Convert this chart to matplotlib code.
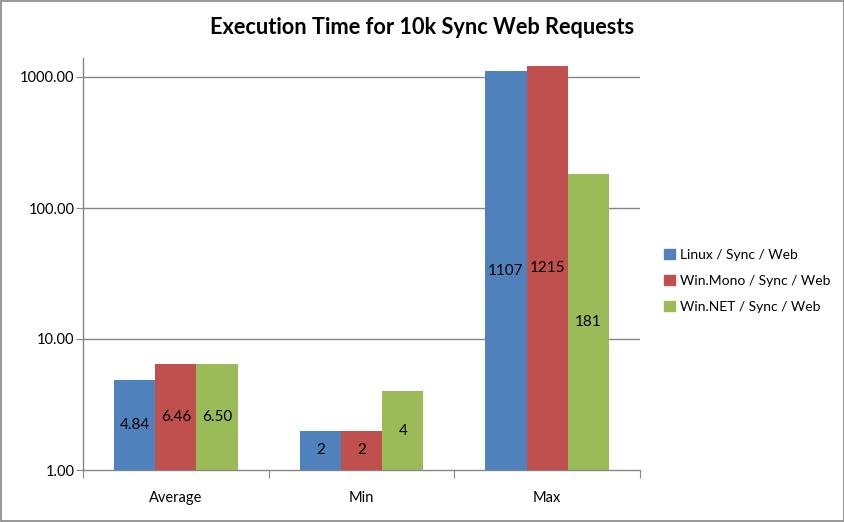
import matplotlib.pyplot as plt
import matplotlib.patches as mpatches
import numpy as np

plt.rcParams['font.family'] = ['Lato', 'DejaVu Sans']

# Data
categories = ['Average', 'Min', 'Max']
series = ['Linux / Sync / Web', 'Win.Mono / Sync / Web', 'Win.NET / Sync / Web']
linux = [4.84, 2, 1107]
mono = [6.46, 2, 1215]
dotnet = [6.50, 4, 181]
labels_linux = ['4.84', '2', '1107']
labels_mono = ['6.46', '2', '1215']
labels_dotnet = ['6.50', '4', '181']
yticks = [1, 10, 100, 1000]

colors = ['#4F81BD', '#C0504D', '#9BBB59']
grid_col = '#868686'

fig = plt.figure(figsize=(8.45, 5.22), dpi=100)
ax = fig.add_axes([83/845, 1-470/522, 557/845, 412/522])

x = np.arange(len(categories))
w = 1/4.5
all_vals = [linux, mono, dotnet]
all_labels = [labels_linux, labels_mono, labels_dotnet]
for i, (vals, labs) in enumerate(zip(all_vals, all_labels)):
    pos = x + (i - 1)*w
    ax.bar(pos, np.array(vals) - 1, bottom=1, width=w, color=colors[i],
           label=series[i], zorder=3)
    # labels sit at the geometric middle of each bar (log axis)
    for p, v, t in zip(pos, vals, labs):
        ax.text(p, np.sqrt(v), t, ha='center', va='center', fontsize=11,
                color='black', zorder=4)

ax.set_yscale('log')
ax.set_ylim(1, 10**(412/131))
ax.set_xlim(-0.5, 2.5)
ax.set_yticks(yticks)
ax.set_yticklabels(['%.2f' % t for t in yticks], fontsize=10.5)
ax.yaxis.set_minor_locator(plt.NullLocator())
ax.set_xticks([-0.5, 0.5, 1.5, 2.5])
ax.set_xticklabels([])
ax.set_xticks(x, minor=True)
ax.set_xticklabels(categories, minor=True, fontsize=10.5)
ax.tick_params(axis='x', which='minor', length=0, pad=15)
ax.tick_params(axis='x', which='major', length=6, color=grid_col, direction='out')
ax.tick_params(axis='y', length=5, color=grid_col, direction='out', pad=1)

for t in yticks[1:]:
    ax.axhline(t, color=grid_col, lw=1, zorder=1)
for s in ['top', 'right']:
    ax.spines[s].set_visible(False)
for s in ['left', 'bottom']:
    ax.spines[s].set_color(grid_col)
    ax.spines[s].set_linewidth(1)

fig.text(422/845, 1-27/522, 'Execution Time for 10k Sync Web Requests',
         ha='center', va='center', fontsize=15.7, fontweight='bold')

handles = [mpatches.Patch(color=c) for c in colors]
fig.legend(handles, series, loc='center left', bbox_to_anchor=(652/845, 1-281/522),
           frameon=False, fontsize=10, handlelength=0.75, handleheight=0.75,
           handletextpad=0.4, labelspacing=1.0)

fig.add_artist(mpatches.Rectangle((0.0006, 0.001), 0.9982, 0.997, transform=fig.transFigure,
                                  fill=False, edgecolor=grid_col, lw=1.2))

fig.savefig('out.png', dpi=100)
